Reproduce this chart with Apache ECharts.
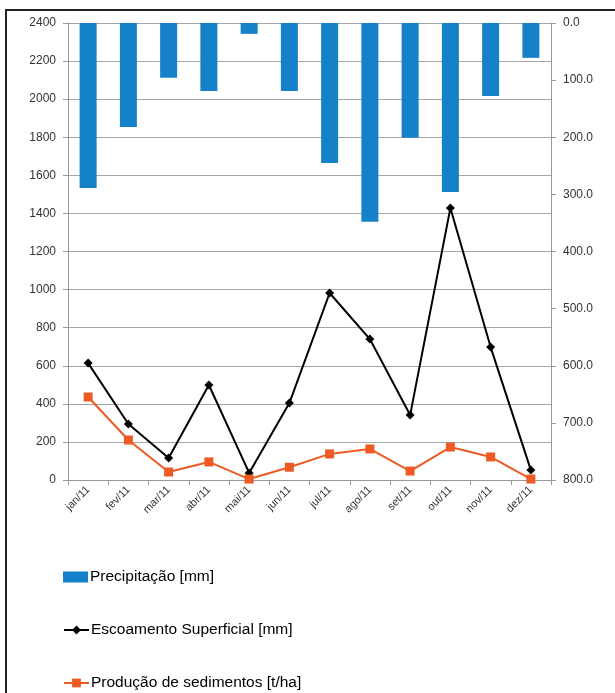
<!DOCTYPE html>
<html>
<head>
<meta charset="utf-8">
<script src="https://cdn.jsdelivr.net/npm/echarts@6/dist/echarts.min.js"></script>
<style>html,body{margin:0;padding:0;background:#fff}#c{width:615px;height:693px}</style>
</head>
<body>
<div id="c"></div>
<script>
const categories = ['jan/11','fev/11','mar/11','abr/11','mai/11','jun/11','jul/11','ago/11','set/11','out/11','nov/11','dez/11'];
const precipitacao = [289, 182, 96, 119, 19, 119, 245, 348, 201, 296, 128, 61];
const escoamento = [614, 294, 115, 499, 37, 404, 982, 740, 341, 1428, 698, 52];
const sedimentos = [436, 210, 42, 95, 5, 67, 137, 163, 47, 173, 121, 5];
const seriesNames = ['Precipitação [mm]', 'Escoamento Superficial [mm]', 'Produção de sedimentos [t/ha]'];

const FONT = 'Liberation Sans';
const legendTops = [569, 622, 675];
const chart = echarts.init(document.getElementById('c'));
chart.setOption({
  animation: false,
  textStyle: { fontFamily: FONT },
  graphic: [{
    type: 'rect', shape: { x: 6, y: 10, width: 640, height: 720 },
    style: { fill: 'none', stroke: '#222', lineWidth: 2 }, z: -1
  }],
  grid: { left: 68, right: 64, top: 23, bottom: 213 },
  legend: seriesNames.map((n, i) => ({
    orient: 'vertical', left: 63, top: legendTops[i], padding: 0,
    itemWidth: 25, itemHeight: 11,
    textStyle: { fontSize: 15.5, color: '#000', fontFamily: FONT, padding: [0, 0, 0, -3] },
    data: [i === 0 ? { name: n, icon: 'rect' } : { name: n }]
  })),
  xAxis: {
    type: 'category', data: categories, boundaryGap: true,
    axisLine: { lineStyle: { color: '#999' } },
    axisTick: { show: true, length: 5, lineStyle: { color: '#999' } },
    axisLabel: { rotate: 45, fontSize: 11, color: '#333', margin: 8, interval: 0 }
  },
  yAxis: [{
    type: 'value', min: 0, max: 2400, interval: 200,
    axisLine: { show: true, lineStyle: { color: '#999' } },
    axisTick: { show: true, length: 5, lineStyle: { color: '#999' } },
    axisLabel: { fontSize: 12, color: '#333', margin: 12, formatter: v => String(v) },
    splitLine: { lineStyle: { color: '#a6a6a6', width: 1 } }
  }, {
    type: 'value', min: 0, max: 800, interval: 100, inverse: true, position: 'right',
    axisLine: { show: true, lineStyle: { color: '#999' } },
    axisTick: { show: true, length: 5, lineStyle: { color: '#999' } },
    axisLabel: { fontSize: 12, color: '#333', margin: 12, formatter: v => v.toFixed(1) },
    splitLine: { show: false }
  }],
  series: [{
    name: seriesNames[0], type: 'bar', yAxisIndex: 1, data: precipitacao,
    barWidth: 17, itemStyle: { color: '#1581c9' }
  }, {
    name: seriesNames[1], type: 'line', yAxisIndex: 0, data: escoamento,
    symbol: 'diamond', symbolSize: 9, lineStyle: { color: '#000', width: 2 },
    itemStyle: { color: '#000' }, z: 3
  }, {
    name: seriesNames[2], type: 'line', yAxisIndex: 0, data: sedimentos,
    symbol: 'rect', symbolSize: 9, lineStyle: { color: '#ee5a24', width: 2 },
    itemStyle: { color: '#ee5a24' }, z: 4
  }]
});
</script>
</body>
</html>
